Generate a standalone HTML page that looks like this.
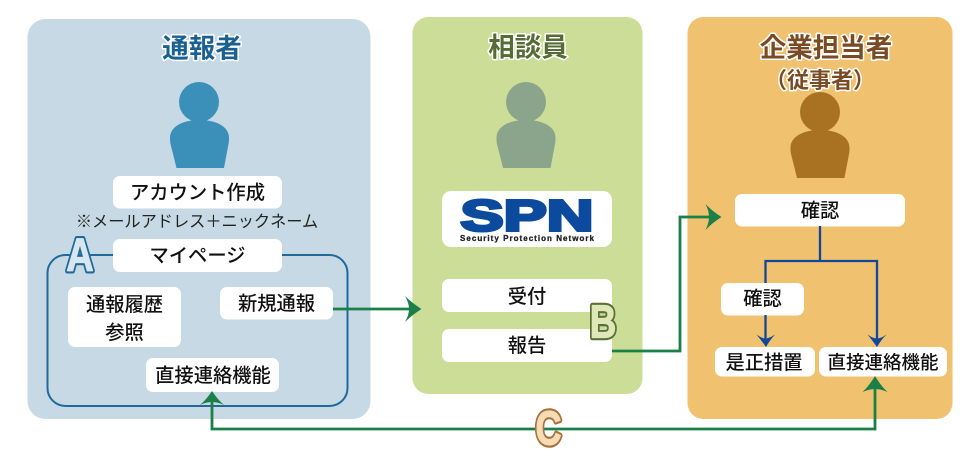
<!DOCTYPE html>
<html lang="ja"><head><meta charset="utf-8"><style>
html,body{margin:0;padding:0;background:#fff}
svg{display:block}
text{font-family:"Liberation Sans","Noto Sans CJK JP",sans-serif}
.b{font-size:19.3px;fill:#111;text-anchor:middle;font-weight:500}
.t{font-size:26.5px;font-weight:700;text-anchor:middle;stroke:#fff;stroke-width:3px;paint-order:stroke;stroke-linejoin:round}
.l{font-size:46px;font-weight:700;text-anchor:middle;stroke-linejoin:round}
</style></head><body>
<svg width="980" height="463" viewBox="0 0 980 463" xmlns="http://www.w3.org/2000/svg">
<defs>
<path id="p" d="M0-45C-16-45-29.500-39-29.500-27Q-29.500-23-29-21L-23 3H24.500L29-21Q29.500-23 29.500-27C29.500-39 16-45 0-45Z"/>
</defs>
<rect x="27.500" y="19" width="343" height="400" rx="18" fill="#c6d9e5"/>
<rect x="412.500" y="17" width="230" height="377" rx="16" fill="#cbdd96"/>
<rect x="687.500" y="17" width="265" height="402" rx="16" fill="#f0c16e"/>

<text class="t" x="202" y="57.500" fill="#1a6090">通報者</text>
<text class="t" x="528" y="56.500" fill="#566b35">相談員</text>
<text class="t" x="826" y="57" fill="#7a4a25">企業担当者</text>
<text class="t" x="820" y="88" fill="#7a4a25" style="font-size:22px">（従事者）</text>

<g fill="#3a90b8"><circle cx="199" cy="102" r="20"/><use href="#p" x="199.500" y="165"/></g>
<g fill="#8aa58c"><circle cx="526" cy="102" r="20"/><use href="#p" x="526" y="165"/></g>
<g fill="#a97223"><circle cx="820" cy="112" r="20"/><use href="#p" x="820" y="175"/></g>

<rect x="47.500" y="255" width="300" height="151" rx="18" fill="none" stroke="#1f6a9a" stroke-width="2"/>

<g fill="#fff">
<rect x="113" y="176" width="169" height="32.500" rx="7"/>
<rect x="113" y="239" width="169" height="33" rx="7"/>
<rect x="68" y="287" width="113" height="60" rx="7"/>
<rect x="220" y="287" width="113" height="32.500" rx="7"/>
<rect x="146" y="358" width="133" height="34" rx="7"/>
<rect x="442" y="191" width="170" height="56" rx="9"/>
<rect x="442" y="279" width="170" height="33" rx="7"/>
<rect x="442" y="329" width="170" height="33" rx="7"/>
<rect x="735" y="194" width="170" height="32.500" rx="7"/>
<rect x="721" y="283" width="83" height="32.500" rx="7"/>
<rect x="715" y="347" width="100" height="29.500" rx="7"/>
<rect x="819" y="347" width="128" height="29.500" rx="7"/>
</g>

<text class="b" x="197.500" y="199">アカウント作成</text>
<text class="b" x="197" y="227" style="font-size:16.200px;font-weight:400;fill:#222">※メールアドレス＋ニックネーム</text>
<text class="b" x="197.500" y="262">マイページ</text>
<text class="b" x="124.500" y="311">通報履歴</text>
<text class="b" x="124.500" y="339">参照</text>
<text class="b" x="276.500" y="310">新規通報</text>
<text class="b" x="213" y="382">直接連絡機能</text>
<text class="b" x="527" y="303">受付</text>
<text class="b" x="527" y="352">報告</text>
<text class="b" x="820" y="217">確認</text>
<text class="b" x="762.500" y="305">確認</text>
<text class="b" x="764" y="369">是正措置</text>
<text class="b" x="883" y="369" style="font-size:18.500px">直接連絡機能</text>

<text x="460.500" y="230.500" textLength="133" lengthAdjust="spacingAndGlyphs" style="font-size:44px;font-weight:700;fill:#0c4a9e;stroke:#0c4a9e;stroke-width:3;stroke-linejoin:miter">SPN</text>
<text x="460" y="241" textLength="134" lengthAdjust="spacing" style="font-size:8px;font-weight:700;fill:#222;stroke:#222;stroke-width:.3">Security Protection Network</text>

<path d="M820 226V261M765.500 283V261H877V340M765.500 315V340" fill="none" stroke="#12489c" stroke-width="2.300"/>
<g fill="#12489c">
<path d="M756.500 334.500Q762 338.500 765.500 338.500Q769 338.500 775 334.500Q770 340 766 347Q761 340 756.500 334.500Z"/>
<path d="M867.500 334.500Q873 338.500 877 338.500Q881 338.500 886.500 334.500Q881 340 877 347Q872 340 867.500 334.500Z"/>
</g>

<g fill="none" stroke="#1a8048" stroke-width="2.800">
<path d="M333 309H414"/>
<path d="M612 351H680V217H712"/>
<path d="M212 400V429H875V385"/>
</g>
<g fill="#1a8048">
<path d="M421.500 309Q412 315 405 322Q409 315 409 309Q409 303 405 296Q412 303 421.500 309Z"/>
<path d="M721.500 217Q712 223 705.500 230Q709 223 709 217Q709 211 705.500 204Q712 211 721.500 217Z"/>
<path d="M212 391Q218 400 224 405Q218 402 212 402Q206 402 200 405Q206 400 212 391Z"/>
<path d="M875 376Q881 386 887.500 392Q881 389 875 389Q869 389 862.500 392Q869 386 875 376Z"/>
</g>

<g class="l">
<text class="l" transform="translate(80 270.500) scale(.82 1)" style="fill:#1f6a9a;stroke:#1f6a9a;stroke-width:5.500px">A</text>
<text class="l" transform="translate(80 270.500) scale(.82 1)" style="fill:#d9e6ee;stroke:#d9e6ee;stroke-width:1.200px">A</text>
<text class="l" transform="translate(603 337.500) scale(.8 1)" style="fill:#5a7035;stroke:#5a7035;stroke-width:5.500px">B</text>
<text class="l" transform="translate(603 337.500) scale(.8 1)" style="fill:#dfe6b8;stroke:#dfe6b8;stroke-width:1.200px">B</text>
<text class="l" transform="translate(548.500 444.500) scale(.75 1)" style="fill:#a8703a;stroke:#a8703a;stroke-width:5.500px;font-size:48px">C</text>
<text class="l" transform="translate(548.500 444.500) scale(.75 1)" style="fill:#f6dcb5;stroke:#f6dcb5;stroke-width:1.200px;font-size:48px">C</text>
</g>
</svg>
</body></html>
